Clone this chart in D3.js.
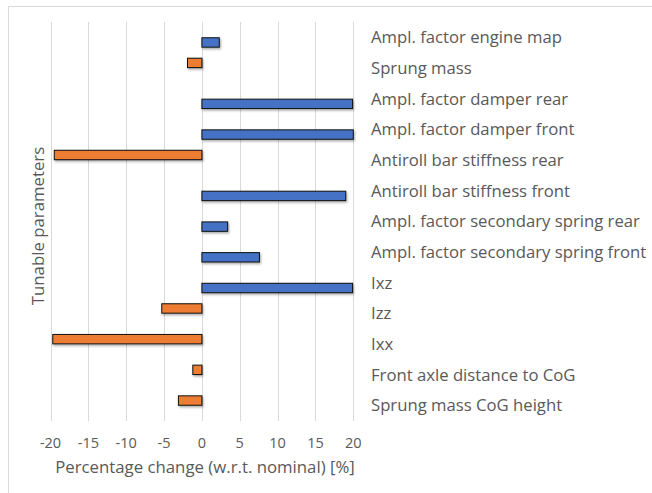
<!DOCTYPE html>
<html><head><meta charset="utf-8">
<script src="https://cdn.jsdelivr.net/npm/d3@7"></script>
<style>html,body{margin:0;padding:0;background:#fff;}svg{display:block;}</style>
</head><body>
<script>
const categories = ["Ampl. factor engine map","Sprung mass","Ampl. factor damper rear","Ampl. factor damper front","Antiroll bar stiffness rear","Antiroll bar stiffness front","Ampl. factor secondary spring rear","Ampl. factor secondary spring front","Ixz","Izz","Ixx","Front axle distance to CoG","Sprung mass CoG height"];
const increaseValues = [2.3, null, 19.9, 20, null, 19.0, 3.4, 7.6, 19.9, null, null, null, null];
const decreaseValues = [null, -1.9, null, null, -19.5, null, null, null, null, -5.3, -19.7, -1.2, -3.1];
const xTicks = [-20,-15,-10,-5,0,5,10,15,20];
const xTitle = "Percentage change (w.r.t. nominal) [%]";
const yTitle = "Tunable parameters";

const W = 652, H = 493;
const font = "'Open Sans', Lato, sans-serif";
const svg = d3.select("body").append("svg").attr("width", W).attr("height", H);

// frame
svg.append("rect").attr("x", 8.5).attr("y", 6.5).attr("width", 700).attr("height", 600)
  .attr("fill", "none").attr("stroke", "#d9d9d9").attr("stroke-width", 1);

const x = d3.scaleLinear().domain([-20, 20]).range([50.5, 353.3]);
const y = d3.scaleBand().domain(categories).range([22, 421]);
const sub = d3.scaleBand().domain(["dec","inc"]).range([0, y.bandwidth()]).paddingInner(0.0).paddingOuter(0.5);

// grid
svg.append("g").selectAll("line").data(xTicks).join("line")
  .attr("x1", d => Math.round(x(d)) + 0.5).attr("x2", d => Math.round(x(d)) + 0.5)
  .attr("y1", 22).attr("y2", 421)
  .attr("stroke", "#d9d9d9").attr("stroke-width", 1);

// shadow filter
const defs = svg.append("defs");
const f = defs.append("filter").attr("id","sh").attr("x","-10%").attr("y","-30%").attr("width","130%").attr("height","190%");
f.append("feDropShadow").attr("dx",1).attr("dy",1.5).attr("stdDeviation",0.8).attr("flood-color","#000").attr("flood-opacity",0.35);

const barH = 9.4;
function drawSeries(vals, key, color) {
  const data = categories.map((c, i) => ({c, v: vals[i]})).filter(d => d.v !== null);
  svg.append("g").selectAll("rect").data(data).join("rect")
    .attr("x", d => x(Math.min(0, d.v)))
    .attr("width", d => Math.abs(x(d.v) - x(0)))
    .attr("y", d => y(d.c) + sub(key) + (sub.bandwidth() - barH) / 2)
    .attr("height", barH)
    .attr("fill", color).attr("stroke", "#111").attr("stroke-width", 1)
    .attr("filter", "url(#sh)");
}
drawSeries(decreaseValues, "dec", "#ED7D31");
drawSeries(increaseValues, "inc", "#4472C4");

// category labels
svg.append("g").selectAll("text").data(categories).join("text")
  .attr("x", 371).attr("y", d => y(d) + y.bandwidth() / 2)
  .attr("dy", "0.35em")
  .attr("font-family", font).attr("font-size", 16.7).attr("fill", "#595959")
  .text(d => d);

// tick labels
svg.append("g").selectAll("text").data(xTicks).join("text")
  .attr("x", d => x(d)).attr("y", 443).attr("dy", "0.35em")
  .attr("text-anchor", "middle")
  .attr("font-family", font).attr("font-size", 14.5).attr("fill", "#595959")
  .text(d => d);

svg.append("text").attr("x", 205).attr("y", 467).attr("dy", "0.35em")
  .attr("text-anchor", "middle").attr("font-family", font).attr("font-size", 16.8).attr("fill", "#595959")
  .text(xTitle);

svg.append("text").attr("transform", "translate(38.5,226) rotate(-90)").attr("dy", "0.35em")
  .attr("text-anchor", "middle").attr("font-family", font).attr("font-size", 16.8).attr("fill", "#595959")
  .text(yTitle);
</script>
</body></html>
